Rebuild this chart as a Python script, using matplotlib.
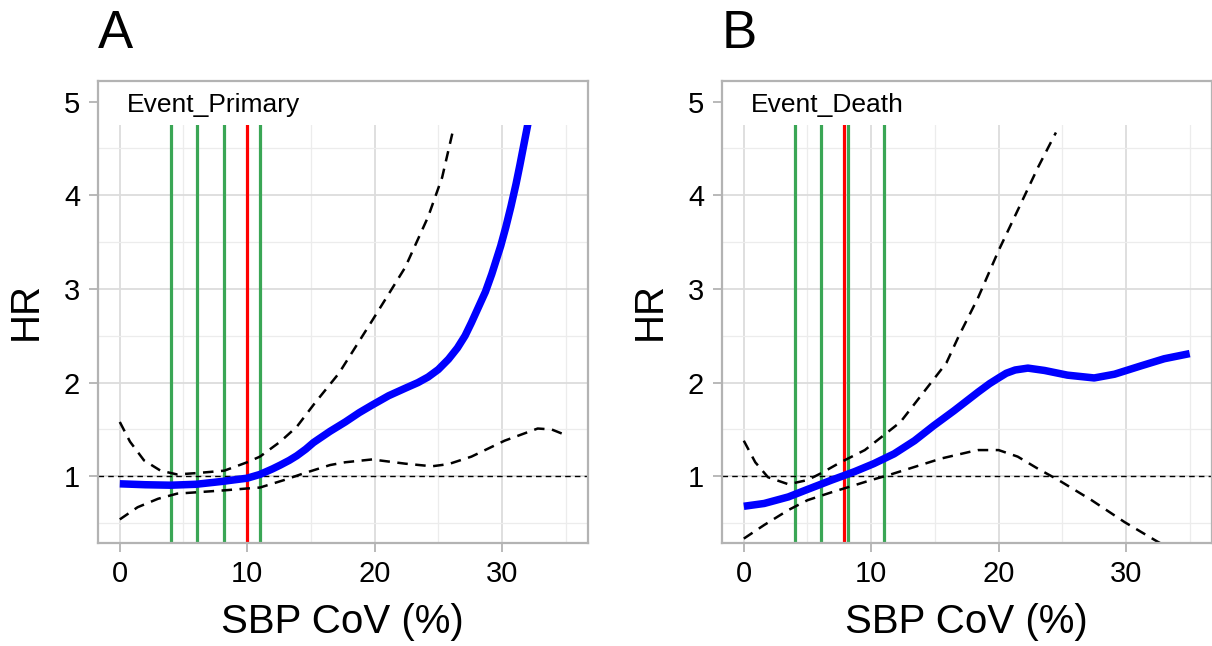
import matplotlib
matplotlib.use("Agg")
import matplotlib.pyplot as plt

plt.rcParams['font.family'] = ['Liberation Sans', 'DejaVu Sans']

# Panel A: Event_Primary
a_hr_x = [0, 2, 4, 6, 8, 10, 11, 12, 12.6, 13.3, 13.9, 14.6, 15.2, 16.5, 17.7, 18.8,
          19.8, 21.1, 22.4, 23.4, 24.2, 25.0, 25.8, 26.5, 27.1, 27.6, 28.1, 28.7,
          29.2, 29.9, 30.3, 30.7, 31.1, 31.4, 32.0, 32.4]
a_hr_y = [0.92, 0.91, 0.905, 0.915, 0.945, 0.98, 1.02, 1.08, 1.12, 1.17, 1.22, 1.29,
          1.36, 1.48, 1.58, 1.68, 1.76, 1.86, 1.94, 2.0, 2.06, 2.14, 2.25, 2.37,
          2.50, 2.64, 2.79, 2.97, 3.16, 3.46, 3.66, 3.88, 4.12, 4.32, 4.74, 5.0]
a_up_x = [0, 0.8, 1.9, 3.2, 4.5, 6.1, 8.2, 10, 11, 12.6, 13.9, 15.3, 17.2, 19.8,
          22.4, 24.2, 25.3, 26.1]
a_up_y = [1.58, 1.37, 1.17, 1.06, 1.02, 1.035, 1.06, 1.15, 1.21, 1.37, 1.53, 1.78,
          2.10, 2.66, 3.23, 3.77, 4.19, 4.66]
a_lo_x = [0, 1.4, 3.0, 4.5, 6.1, 8.2, 10, 11, 12.9, 14.4, 16.5, 17.7, 19.8, 22.4,
          24.5, 25.8, 27.6, 30.2, 32.8, 33.9, 35]
a_lo_y = [0.54, 0.67, 0.76, 0.815, 0.83, 0.85, 0.87, 0.88, 0.96, 1.03, 1.12, 1.15,
          1.18, 1.135, 1.107, 1.13, 1.21, 1.38, 1.51, 1.50, 1.44]
a_green = [4.05, 6.05, 8.2, 11.0]
a_red = 10.0

# Panel B: Event_Death
b_hr_x = [0, 1.6, 3.5, 5.0, 6.9, 8.7, 10.2, 11.8, 13.4, 14.9, 16.5, 18.4, 19.3, 20,
          20.6, 21.3, 22.3, 23.6, 25.4, 27.5, 29.1, 31.2, 33, 35]
b_hr_y = [0.68, 0.71, 0.78, 0.86, 0.96, 1.05, 1.135, 1.24, 1.38, 1.54, 1.70, 1.90,
          1.99, 2.05, 2.10, 2.135, 2.155, 2.13, 2.08, 2.05, 2.09, 2.18, 2.255, 2.31]
b_up_x = [0, 0.9, 1.9, 3.5, 5.0, 6.1, 7.6, 9.5, 11, 12.3, 13.5, 15.9, 16.85, 18.4,
          20, 21.5, 23.1, 24.5]
b_up_y = [1.38, 1.15, 0.99, 0.915, 0.96, 1.035, 1.15, 1.28, 1.44, 1.58, 1.79, 2.21,
          2.49, 2.91, 3.41, 3.84, 4.30, 4.67]
b_lo_x = [0, 1.6, 3.5, 5.0, 6.9, 8.7, 10, 11.3, 13.4, 15.5, 17.7, 18.4, 20, 21.5,
          23.1, 24.7, 27.3, 29.9, 32.5, 35]
b_lo_y = [0.335, 0.48, 0.64, 0.745, 0.83, 0.905, 0.96, 1.01, 1.10, 1.19, 1.26, 1.28,
          1.28, 1.21, 1.08, 0.96, 0.745, 0.51, 0.30, 0.12]
b_green = [4.05, 6.05, 8.2, 11.0]
b_red = 7.9

W, H = 1212, 646
fig = plt.figure(figsize=(W / 100, H / 100), dpi=100)

GRID_MAJ = '#dcdcdc'
GRID_MIN = '#ececec'
SPINE = '#b3b3b3'
GREEN = '#3aa655'


def draw_panel(left_px, letter, label, hr_x, hr_y, up_x, up_y, lo_x, lo_y, greens, red):
    right_px = left_px + 490.5
    ax = fig.add_axes([left_px / W, (H - 543) / H, 490.5 / W, 462 / H])
    ax.set_xlim(-1.75, 36.75)
    ax.set_ylim(0.288, 5.22)
    ax.set_xticks([0, 10, 20, 30])
    ax.set_xticks([5, 15, 25, 35], minor=True)
    ax.set_yticks([1, 2, 3, 4, 5])
    ax.set_yticks([0.5, 1.5, 2.5, 3.5, 4.5], minor=True)
    ax.grid(which='major', color=GRID_MAJ, lw=1.3)
    ax.grid(which='minor', color=GRID_MIN, lw=0.9)
    ax.tick_params(which='major', length=6.5, width=1.3, color=SPINE,
                   labelsize=21, pad=6)
    ax.tick_params(which='minor', length=0)
    for s in ax.spines.values():
        s.set_color(SPINE)
        s.set_linewidth(1.6)

    for g in greens:
        ax.axvline(g, color=GREEN, lw=2.3, zorder=2)
    ax.axvline(red, color='#ff0000', lw=2.3, zorder=2)
    ax.axhline(1, color='black', lw=1.0, ls=(0, (4, 3)), zorder=2.1)

    ax.plot(up_x, up_y, color='black', lw=1.8, dashes=(4.2, 3.0), zorder=2.1)
    ax.plot(lo_x, lo_y, color='black', lw=1.8, dashes=(4.2, 3.0), zorder=2.1)
    ax.plot(hr_x, hr_y, color='#0000ff', lw=5.4, solid_capstyle='butt',
            solid_joinstyle='round', zorder=2.2)

    # blank label strip at top of the panel
    ax.axhspan(4.75, 5.3, color='white', lw=0, zorder=2.3)
    ax.text(0.06, 0.9335, label, transform=ax.transAxes, fontsize=19,
            va='baseline', ha='left', zorder=3)

    fig.text(left_px / W, 1 - 48 / H, letter, fontsize=38, va='baseline', ha='left')
    fig.text((left_px - 72) / W, 1 - 311 / H, 'HR', fontsize=29, rotation=90,
             ha='center', va='center')
    fig.text((left_px + right_px) / 2 / W, 1 - 622 / H, 'SBP CoV (%)', fontsize=29,
             ha='center', va='center')
    return ax


draw_panel(97.5, 'A', 'Event_Primary', a_hr_x, a_hr_y, a_up_x, a_up_y,
           a_lo_x, a_lo_y, a_green, a_red)
draw_panel(721.5, 'B', 'Event_Death', b_hr_x, b_hr_y, b_up_x, b_up_y,
           b_lo_x, b_lo_y, b_green, b_red)

fig.savefig('out.png', dpi=100)
